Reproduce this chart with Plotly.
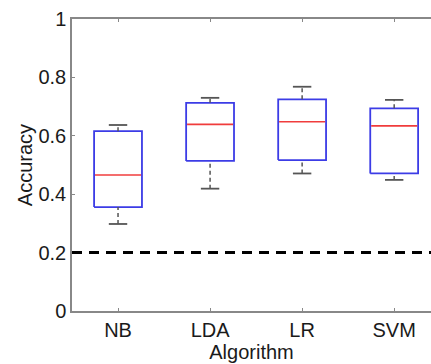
import plotly.graph_objects as go

categories = ["NB", "LDA", "LR", "SVM"]
lower_whisker = [0.298, 0.419, 0.471, 0.449]
q1 = [0.356, 0.514, 0.517, 0.471]
median = [0.466, 0.639, 0.648, 0.634]
q3 = [0.616, 0.713, 0.725, 0.694]
upper_whisker = [0.637, 0.730, 0.768, 0.723]
chance_level = 0.2

xpos = list(range(1, len(categories) + 1))
box_half = 0.26
cap_half = 0.10

fig = go.Figure()

# boxes
bx, by = [], []
for x, a, b in zip(xpos, q1, q3):
    bx += [x - box_half, x + box_half, x + box_half, x - box_half, x - box_half, None]
    by += [a, a, b, b, a, None]
fig.add_trace(go.Scatter(x=bx, y=by, mode="lines",
                         line=dict(color="#3c3ce6", width=1.8),
                         showlegend=False, hoverinfo="skip"))

# whiskers (dashed)
wx, wy = [], []
for x, lo, a, b, hi in zip(xpos, lower_whisker, q1, q3, upper_whisker):
    wx += [x, x, None, x, x, None]
    wy += [lo, a, None, b, hi, None]
fig.add_trace(go.Scatter(x=wx, y=wy, mode="lines",
                         line=dict(color="#555555", width=1.5, dash="4px,3px"),
                         showlegend=False, hoverinfo="skip"))
# caps
cx, cy = [], []
for x, lo, hi in zip(xpos, lower_whisker, upper_whisker):
    cx += [x - cap_half, x + cap_half, None, x - cap_half, x + cap_half, None]
    cy += [lo, lo, None, hi, hi, None]
fig.add_trace(go.Scatter(x=cx, y=cy, mode="lines",
                         line=dict(color="#555555", width=1.8),
                         showlegend=False, hoverinfo="skip"))
# medians
mx, my = [], []
for x, m in zip(xpos, median):
    mx += [x - box_half + 0.01, x + box_half - 0.01, None]
    my += [m, m, None]
fig.add_trace(go.Scatter(x=mx, y=my, mode="lines",
                         line=dict(color="#f03c3c", width=1.6),
                         showlegend=False, hoverinfo="skip"))

fig.add_hline(y=chance_level, line=dict(color="black", width=3, dash="10px,7px"))

font = dict(family="Liberation Sans, Arial, sans-serif", size=20, color="#1a1a1a")
fig.update_layout(
    width=431, height=364,
    margin=dict(l=72, r=0, t=19, b=53),
    paper_bgcolor="white", plot_bgcolor="white",
    font=font,
    xaxis=dict(range=[0.5, 4.4], tickvals=xpos, ticktext=categories,
               showline=True, linecolor="#888888", linewidth=1.5, mirror="ticks",
               ticks="inside", ticklen=3, tickcolor="#888888",
               showgrid=False, zeroline=False,
               title=dict(text="Algorithm", standoff=0, font=font)),
    yaxis=dict(range=[0, 1], dtick=0.2, tick0=0,
               showline=True, linecolor="#888888", linewidth=1.5,
               ticks="inside", ticklen=3, tickcolor="#888888",
               showgrid=False, zeroline=False,
               title=dict(text="Accuracy", standoff=0, font=font)),
)

fig.write_html("out.html")
